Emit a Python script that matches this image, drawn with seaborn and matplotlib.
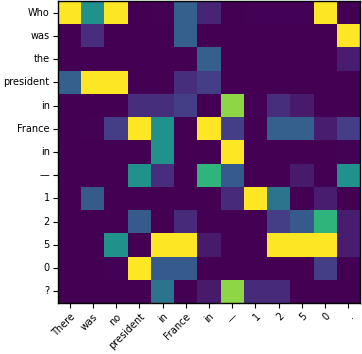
import numpy as np
import pandas as pd
import matplotlib
matplotlib.use("Agg")
import matplotlib.pyplot as plt
import seaborn as sns

x_labels = ["There", "was", "no", "president", "in", "France", "in", "—", "1", "2", "5", "0", "."]
y_labels = ["Who", "was", "the", "president", "in", "France", "in", "—", "1", "2", "5", "0", "?"]

row_who       = [1.00, 0.50, 1.00, 0.00, 0.005, 0.30, 0.10, 0.00, 0.005, 0.005, 0.005, 1.00, 0.00]
row_was       = [0.00, 0.13, 0.00, 0.00, 0.00, 0.30, 0.00, 0.00, 0.00, 0.00, 0.00, 0.00, 1.00]
row_the       = [0.00, 0.00, 0.00, 0.00, 0.00, 0.00, 0.30, 0.00, 0.00, 0.00, 0.00, 0.00, 0.08]
row_president = [0.30, 1.00, 1.00, 0.00, 0.00, 0.13, 0.18, 0.00, 0.00, 0.00, 0.00, 0.00, 0.00]
row_in1       = [0.00, 0.00, 0.00, 0.13, 0.13, 0.18, 0.00, 0.83, 0.005, 0.13, 0.07, 0.00, 0.00]
row_france    = [0.00, 0.005, 0.18, 1.00, 0.50, 0.00, 1.00, 0.18, 0.00, 0.30, 0.30, 0.08, 0.18]
row_in2       = [0.00, 0.00, 0.00, 0.00, 0.50, 0.00, 0.00, 1.00, 0.00, 0.00, 0.00, 0.00, 0.005]
row_dash      = [0.00, 0.00, 0.00, 0.50, 0.13, 0.00, 0.65, 0.28, 0.00, 0.00, 0.07, 0.00, 0.50]
row_1         = [0.00, 0.28, 0.00, 0.00, 0.00, 0.00, 0.00, 0.12, 1.00, 0.38, 0.00, 0.08, 0.00]
row_2         = [0.00, 0.00, 0.00, 0.28, 0.00, 0.12, 0.00, 0.00, 0.00, 0.18, 0.28, 0.65, 0.08]
row_5         = [0.00, 0.00, 0.50, 0.00, 1.00, 1.00, 0.07, 0.00, 0.00, 1.00, 1.00, 1.00, 0.08]
row_0         = [0.00, 0.00, 0.005, 1.00, 0.28, 0.28, 0.00, 0.00, 0.00, 0.00, 0.00, 0.18, 0.00]
row_q         = [0.00, 0.00, 0.00, 0.00, 0.38, 0.00, 0.07, 0.83, 0.12, 0.12, 0.00, 0.00, 0.00]

rows = [row_who, row_was, row_the, row_president, row_in1, row_france, row_in2,
        row_dash, row_1, row_2, row_5, row_0, row_q]
data = pd.DataFrame(np.array(rows))

plt.rcParams['font.family'] = ['DejaVu Sans']
fig = plt.figure(figsize=(3.62, 3.54), dpi=100)
ax = fig.add_axes([58 / 362, 1 - 303 / 354, 302 / 362, 302 / 354])
sns.heatmap(data, cmap="viridis", vmin=0, vmax=1, cbar=False, ax=ax,
            xticklabels=x_labels, yticklabels=y_labels)
for s in ax.spines.values():
    s.set_visible(True)
    s.set_color("black")
    s.set_linewidth(1.0)
ax.tick_params(axis="both", length=3.5, width=0.8, labelsize=7, color="black", pad=2.5)
ax.set_yticklabels(y_labels, rotation=0)
ax.set_xticklabels(x_labels, rotation=45, ha="right", rotation_mode="anchor")
fig.savefig("out.png", dpi=100)
